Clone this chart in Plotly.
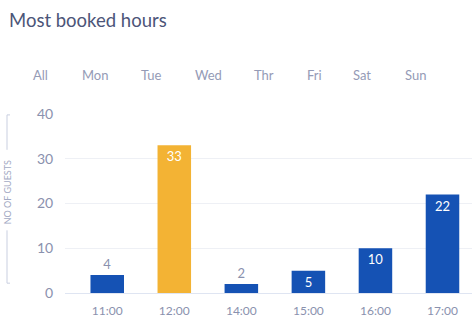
import plotly.graph_objects as go

hours = ["11:00", "12:00", "14:00", "15:00", "16:00", "17:00"]
guests = [4, 33, 2, 5, 10, 22]
highlight = "12:00"
days = ["All", "Mon", "Tue", "Wed", "Thr", "Fri", "Sat", "Sun"]
day_x = [40, 95, 151, 208, 264, 314, 362, 415]  # pixel centres of the day tabs

W, H = 475, 323
L, R, T, B = 65, 3, 114, 30
plot_w = W - L - R

BLUE = "#1552b4"
ORANGE = "#f3b334"
MUTED = "#8a91ae"
FONT = "Lato"

colors = [ORANGE if h == highlight else BLUE for h in hours]
positions = ["outside" if v < 5 else "inside" for v in guests]
text_colors = [MUTED if p == "outside" else "white" for p in positions]

fig = go.Figure(
    go.Bar(
        x=hours,
        y=guests,
        marker=dict(color=colors, line=dict(width=0)),
        text=[str(v) for v in guests],
        textposition=positions,
        insidetextanchor="end",
        textfont=dict(family=FONT, size=13, color=text_colors),
        cliponaxis=False,
        width=0.5,
    )
)

fig.update_layout(
    width=W,
    height=H,
    margin=dict(l=L, r=R, t=T, b=B),
    paper_bgcolor="white",
    plot_bgcolor="white",
    showlegend=False,
    uniformtext=dict(minsize=12, mode="show"),
    font=dict(family=FONT, color=MUTED),
    xaxis=dict(
        range=[-0.63, 5.44],
        showgrid=False,
        showline=False,
        zeroline=False,
        ticks="outside",
        ticklen=7,
        tickcolor="rgba(0,0,0,0)",
        tickfont=dict(family=FONT, size=12, color=MUTED),
    ),
    yaxis=dict(
        range=[0, 40],
        tickvals=[0, 10, 20, 30, 40],
        showgrid=True,
        gridcolor="#eef0f5",
        gridwidth=1,
        zeroline=True,
        zerolinecolor="#dfe5f2",
        zerolinewidth=1,
        ticks="outside",
        ticklen=8,
        tickcolor="rgba(0,0,0,0)",
        tickfont=dict(family=FONT, size=14, color=MUTED),
    ),
)

# Title
fig.add_annotation(
    text="Most booked hours",
    xref="paper", yref="paper",
    x=(7 - L) / plot_w, y=1 + (T - 20) / (H - T - B),
    xanchor="left", yanchor="middle",
    showarrow=False,
    font=dict(family=FONT, size=18.5, color="#4c5578"),
)

# Day selector row
for d, px in zip(days, day_x):
    fig.add_annotation(
        text=d,
        xref="paper", yref="paper",
        x=(px - L) / plot_w, y=1 + (T - 75) / (H - T - B),
        xanchor="center", yanchor="middle",
        showarrow=False,
        font=dict(family=FONT, size=13, color="#959bb6"),
    )

# Vertical axis caption with bracket lines
cap_x = (7 - L) / plot_w
fig.add_annotation(
    text="NO OF GUESTS",
    xref="paper", yref="y",
    x=cap_x, y=22.5,
    textangle=-90,
    xanchor="center", yanchor="middle",
    showarrow=False,
    font=dict(family=FONT, size=9, color="#a3aac3"),
)
line_style = dict(color="#c9cfe0", width=1)
for y0, y1 in [(32.0, 39.8), (2.2, 14.0)]:
    fig.add_shape(type="line", xref="paper", yref="y",
                  x0=cap_x, x1=cap_x, y0=y0, y1=y1, line=line_style)
for yv in (39.8, 2.2):
    fig.add_shape(type="line", xref="paper", yref="y",
                  x0=cap_x, x1=cap_x + 3 / plot_w, y0=yv, y1=yv, line=line_style)

fig.write_html("out.html")
